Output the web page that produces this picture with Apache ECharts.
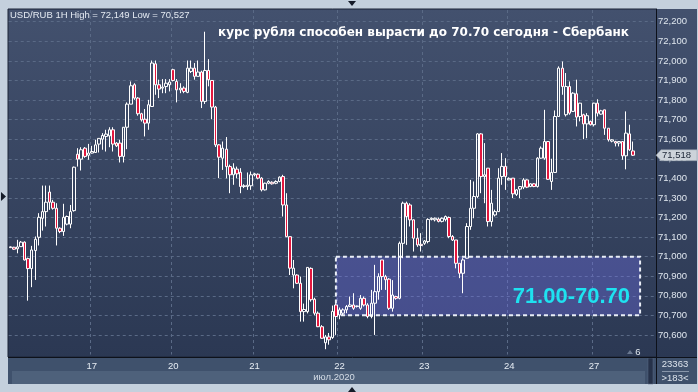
<!DOCTYPE html>
<html><head><meta charset="utf-8">
<script src="https://cdn.jsdelivr.net/npm/echarts@6/dist/echarts.min.js"></script>
<style>html,body{margin:0;padding:0;background:#c4d0dd;overflow:hidden}#c{width:698px;height:392px}</style>
</head><body><div id="c"></div>
<script>
// ---- data (hourly candles, USD/RUB) ----
const opens = [71.046,71.048,71.040,71.051,71.074,70.990,70.939,71.031,71.099,71.196,71.230,71.330,71.278,71.247,71.145,71.128,71.166,71.166,71.235,71.523,71.498,71.554,71.518,
71.529,71.532,71.575,71.600,71.614,71.617,71.648,71.580,71.580,71.512,71.661,71.779,71.878,71.810,71.730,71.702,71.682,71.767,71.985,71.878,71.861,71.869,71.878,
71.955,71.895,71.852,71.861,71.839,71.946,71.963,71.921,71.943,71.793,71.951,71.900,71.764,71.571,71.503,71.549,71.460,71.418,71.447,71.431,71.358,71.358,71.362,
71.418,71.421,71.401,71.341,71.375,71.380,71.375,71.384,71.409,71.264,71.102,70.906,70.906,70.864,70.719,70.719,70.940,70.782,70.711,70.642,70.560,70.590,70.587,70.753,
70.702,70.711,70.728,70.745,70.753,70.745,70.736,70.787,70.753,70.694,70.762,70.821,70.983,70.898,70.885,70.736,70.796,70.787,71.068,71.273,71.264,71.188,71.094,71.063,
71.068,71.077,71.190,71.188,71.192,71.180,71.190,71.200,71.103,71.085,70.966,70.915,70.992,71.154,71.247,71.307,71.627,71.409,71.452,71.179,71.213,71.230,71.409,71.461,
71.392,71.401,71.318,71.345,71.355,71.392,71.358,71.372,71.358,71.503,71.503,71.588,71.384,71.430,71.716,71.963,71.725,71.869,71.742,71.832,71.716,71.725,71.678,71.691,
71.674,71.784,71.728,71.750,71.656,71.590,71.588,71.580,71.588,71.515,71.627,71.540];
const closes = [71.050,71.038,71.050,71.074,70.983,70.939,71.034,71.089,71.201,71.230,71.278,71.278,71.247,71.145,71.128,71.201,71.205,71.230,71.457,71.498,71.546,71.512,71.529,
71.537,71.571,71.604,71.619,71.626,71.648,71.575,71.566,71.512,71.661,71.779,71.873,71.810,71.730,71.699,71.682,71.776,71.989,71.878,71.856,71.866,71.886,71.892,
71.900,71.852,71.861,71.844,71.963,71.963,71.921,71.943,71.793,71.951,71.904,71.764,71.571,71.508,71.554,71.460,71.418,71.452,71.423,71.358,71.362,71.365,71.418,
71.423,71.401,71.341,71.375,71.384,71.372,71.384,71.406,71.264,71.102,70.941,70.941,70.864,70.719,70.730,70.945,70.780,70.711,70.642,70.583,70.590,70.575,70.720,70.694,
70.728,70.728,70.745,70.753,70.736,70.748,70.787,70.753,70.694,70.762,70.821,70.898,70.898,70.882,70.736,70.804,70.787,71.068,71.273,71.205,71.188,71.094,71.060,71.057,
71.080,71.190,71.196,71.196,71.180,71.196,71.205,71.103,71.085,70.966,70.915,70.983,71.154,71.247,71.307,71.627,71.409,71.418,71.179,71.273,71.230,71.401,71.461,71.409,
71.400,71.321,71.341,71.358,71.392,71.355,71.372,71.358,71.503,71.554,71.588,71.395,71.430,71.716,71.963,71.869,71.869,71.733,71.835,71.713,71.784,71.678,71.720,71.674,
71.784,71.733,71.745,71.656,71.597,71.597,71.580,71.588,71.515,71.631,71.546,71.518];
const lows = [71.044,71.035,71.017,71.050,70.980,70.775,70.844,70.881,71.057,71.133,71.154,71.239,71.240,71.057,71.120,71.106,71.160,71.145,71.230,71.460,71.440,71.505,71.495,
71.527,71.532,71.532,71.546,71.537,71.559,71.537,71.560,71.481,71.481,71.549,71.779,71.801,71.720,71.690,71.614,71.648,71.767,71.827,71.810,71.835,71.835,71.844,
71.895,71.788,71.835,71.835,71.835,71.938,71.904,71.921,71.759,71.780,71.870,71.702,71.560,71.401,71.443,71.400,71.324,71.367,71.400,71.324,71.350,71.341,71.341,
71.410,71.395,71.333,71.338,71.370,71.368,71.370,71.380,71.205,71.100,70.906,70.838,70.860,70.668,70.668,70.710,70.770,70.700,70.640,70.580,70.527,70.550,70.580,70.600,
70.680,70.700,70.711,70.745,70.728,70.740,70.728,70.745,70.685,70.685,70.600,70.780,70.830,70.830,70.728,70.719,70.780,70.782,70.992,71.060,71.154,71.026,71.050,71.026,
71.060,71.068,71.185,71.180,71.175,71.175,71.180,71.094,71.080,70.940,70.890,70.813,70.990,71.137,71.196,71.300,71.324,71.273,71.154,71.154,71.205,71.230,71.367,71.341,
71.390,71.299,71.310,71.299,71.345,71.350,71.355,71.355,71.353,71.500,71.495,71.392,71.341,71.430,71.716,71.827,71.716,71.725,71.740,71.665,71.691,71.600,71.605,71.670,
71.665,71.716,71.725,71.622,71.588,71.584,71.563,71.563,71.495,71.446,71.540,71.514];
const highs = [71.052,71.050,71.086,71.080,71.078,70.995,71.055,71.103,71.222,71.363,71.363,71.363,71.290,71.273,71.150,71.270,71.210,71.264,71.460,71.554,71.559,71.560,71.576,
71.566,71.597,71.605,71.631,71.648,71.661,71.661,71.585,71.597,71.661,71.788,71.895,71.886,71.815,71.735,71.754,71.801,72.002,72.002,71.904,71.907,71.907,71.907,
71.960,71.907,71.886,71.870,72.002,72.002,71.989,72.002,71.950,72.149,72.009,71.900,71.770,71.575,71.588,71.611,71.470,71.477,71.460,71.452,71.370,71.430,71.435,
71.428,71.425,71.406,71.378,71.390,71.385,71.390,71.410,71.418,71.324,71.102,70.983,70.910,70.898,70.760,70.945,70.945,70.790,70.720,70.650,70.600,70.610,70.750,70.762,
70.740,70.736,70.753,70.796,70.813,70.750,70.804,70.796,70.762,70.830,70.958,70.915,70.983,70.907,70.890,70.880,70.800,71.077,71.281,71.281,71.273,71.190,71.145,71.120,
71.085,71.196,71.200,71.200,71.200,71.200,71.210,71.205,71.110,71.085,70.966,70.992,71.171,71.392,71.384,71.631,71.631,71.580,71.452,71.341,71.240,71.452,71.529,71.503,
71.405,71.401,71.345,71.360,71.401,71.395,71.375,71.375,71.508,71.563,71.750,71.590,71.500,71.747,71.972,71.997,71.938,71.895,71.840,71.904,71.786,71.730,71.733,71.695,
71.786,71.804,71.750,71.750,71.656,71.600,71.592,71.590,71.590,71.742,71.674,71.588];
const dayLabels = ['17','20','21','22','23','24','27'];
const dayStarts = [23,46,69,93,117,141,165];
const emptySlots = 6;
const zoneHigh = 71.00, zoneLow = 70.70;
const zoneFromIndex = 92, zoneToIndex = 178;
const zoneText = '71.00-70.70';
const headerText = 'USD/RUB 1H High = 72,149 Low = 70,527';
const titleText = 'курс рубля способен вырасти до 70.70 сегодня - Сбербанк';
const monthText = 'июл.2020';
const barsInfo = ['23363', '>183<'];
const lastPriceText = '71,518';

// ---- build ----
const total = opens.length + emptySlots;
const categories = [];
for (let i = 0; i < total; i++) categories.push('h' + i);
const candles = opens.map((o, i) => [o, closes[i], lows[i], highs[i]]);
const isDayStart = (i) => dayStarts.indexOf(i) >= 0;

const chart = echarts.init(document.getElementById('c'), null, {renderer: 'canvas'});
const grad = () => new echarts.graphic.LinearGradient(0, 0, 0, 1, [{offset: 0, color: '#43516e'}, {offset: 1, color: '#2b3853'}]);
const FONT = 'Liberation Sans, Arial, sans-serif';
const lastClose = closes[closes.length - 1];

const elements = [
  {type: 'rect', z: -10, shape: {x: 8, y: 9, width: 649, height: 348}, style: {fill: grad(), stroke: '#1c2537', lineWidth: 1}},
  {type: 'rect', z: -10, shape: {x: 657, y: 9, width: 40, height: 348}, style: {fill: grad()}},
  {type: 'rect', z: -10, shape: {x: 8, y: 357, width: 689, height: 27}, style: {fill: '#3f516c'}},
  {type: 'rect', z: -9, shape: {x: 12, y: 371, width: 633, height: 13}, style: {fill: '#4e617b'}},
  {type: 'rect', z: -9, shape: {x: 648, y: 358, width: 5, height: 26}, style: {fill: '#26324a', stroke: '#5a6a84', lineWidth: 0.5}},
  {type: 'line', z: 50, shape: {x1: 656.5, y1: 9, x2: 656.5, y2: 384}, style: {stroke: '#0d111a', lineWidth: 1}},
  {type: 'line', z: 50, shape: {x1: 8, y1: 357.5, x2: 697, y2: 357.5}, style: {stroke: '#0d111a', lineWidth: 1}},
  {type: 'text', z: 100, x: 10, y: 15, style: {text: headerText, fill: '#e4eaf2', font: '9.5px Liberation Sans', textVerticalAlign: 'middle'}},
  {type: 'text', z: 100, x: 218, y: 33, style: {text: titleText, fill: '#ffffff', font: 'bold 12px DejaVu Sans', textVerticalAlign: 'middle'}},
  {type: 'text', z: 100, x: 334, y: 377, style: {text: monthText, fill: '#d4dce6', font: '9.5px Liberation Sans', textAlign: 'center', textVerticalAlign: 'middle'}},
  {type: 'text', z: 100, x: 675, y: 364, style: {text: barsInfo[0], fill: '#dde4ec', font: '9.5px Liberation Sans', textAlign: 'center', textVerticalAlign: 'middle'}},
  {type: 'line', z: 100, shape: {x1: 662, y1: 371.5, x2: 689, y2: 371.5}, style: {stroke: '#8896aa', lineWidth: 1}},
  {type: 'text', z: 100, x: 675, y: 378.5, style: {text: barsInfo[1], fill: '#dde4ec', font: '9.5px Liberation Sans', textAlign: 'center', textVerticalAlign: 'middle'}},
  {type: 'text', z: 100, x: 638, y: 352, style: {text: '6', fill: '#dfe6ee', font: '9.5px Liberation Sans', textAlign: 'center', textVerticalAlign: 'middle'}},
  {type: 'polygon', z: 100, shape: {points: [[627, 354], [633, 354], [630, 350]]}, style: {fill: '#6a7890'}},
  {type: 'polygon', z: 100, shape: {points: [[348, 1], [356, 1], [352, 6]]}, style: {fill: '#151b28'}},
  {type: 'polygon', z: 100, shape: {points: [[1, 192], [1, 201], [6, 196.5]]}, style: {fill: '#151b28'}},
  {type: 'polygon', z: 100, shape: {points: [[348, 392], [356, 392], [352, 387]]}, style: {fill: '#151b28'}}
];

const option = {
  animation: false,
  backgroundColor: '#c4d0dd',
  grid: {left: 8.74, right: 698 - 656, top: 10, bottom: 37.5, containLabel: false, outerBoundsMode: 'none'},
  xAxis: {
    type: 'category', data: categories, boundaryGap: true,
    axisLine: {show: false}, axisTick: {show: false},
    axisLabel: {
      interval: (i) => isDayStart(i), margin: 7, color: '#e6ecf3', fontSize: 9.5, fontFamily: FONT,
      formatter: (v, i) => { const k = dayStarts.indexOf(i); return k >= 0 ? dayLabels[k] : ''; }
    },
    splitLine: {show: true, interval: (i) => isDayStart(i), lineStyle: {color: '#5a6a86', width: 1, type: [3, 3]}}
  },
  yAxis: {
    type: 'value', position: 'right', min: 70.5, max: 72.26, interval: 0.1, scale: true,
    axisLine: {show: false}, axisTick: {show: false},
    axisLabel: {margin: 2, color: '#dfe6ee', fontSize: 9.5, fontFamily: FONT, showMinLabel: false, showMaxLabel: false,
      formatter: (v) => v.toFixed(3).replace('.', ',')},
    splitLine: {show: true, showMinLine: false, showMaxLine: false, lineStyle: {color: '#5a6a86', width: 1, type: [3, 3]}}
  },
  series: [
    {
      type: 'candlestick', data: candles, barWidth: 3, z: 2,
      itemStyle: {color: 'rgba(0,0,0,0)', color0: '#e3173e', borderColor: '#ffffff', borderColor0: '#ffffff', borderWidth: 1}
    },
    {
      type: 'line', data: [], z: 5, silent: true,
      markArea: {
        silent: true,
        itemStyle: {color: 'rgba(113,115,239,0.36)', borderColor: '#e9eef7', borderWidth: 2, borderType: [4, 3]},
        label: {show: true, position: 'insideRight', offset: [-6, 11], formatter: zoneText, color: '#1ee2f0', fontSize: 22, fontWeight: 'bold', fontFamily: FONT},
        data: [[{xAxis: categories[zoneFromIndex], yAxis: zoneHigh}, {xAxis: categories[zoneToIndex], yAxis: zoneLow}]]
      }
    }
  ],
  graphic: {elements: elements}
};
chart.setOption(option);

// last-price tag on the right axis, placed from the last close through the axis scale
const py = chart.convertToPixel({yAxisIndex: 0}, lastClose);
elements.push(
  {type: 'polygon', z: 120, shape: {points: [[656, py], [661, py - 5.5], [697, py - 5.5], [697, py + 5.5], [661, py + 5.5]]}, style: {fill: '#cdd3da', stroke: '#8e98a6', lineWidth: 0.5}},
  {type: 'text', z: 121, x: 662, y: py + 0.5, style: {text: lastPriceText, fill: '#1b2535', font: '9.5px Liberation Sans', textVerticalAlign: 'middle'}}
);
option.graphic = {elements: elements};
chart.setOption(option, true);
</script></body></html>
